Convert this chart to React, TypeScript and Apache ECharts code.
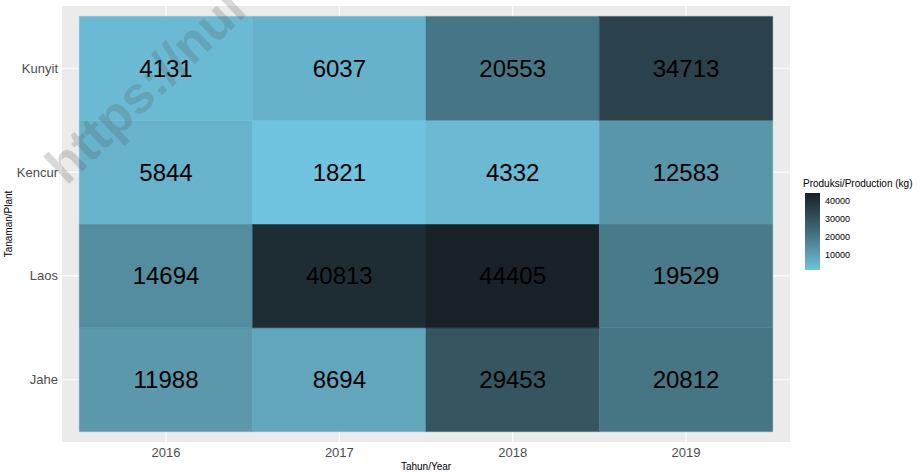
import React, { useEffect, useRef } from "react";
import * as echarts from "echarts";

const years = ["2016", "2017", "2018", "2019"];
const plants = ["Jahe", "Laos", "Kencur", "Kunyit"]; // bottom to top
const jahe = [11988, 8694, 29453, 20812];
const laos = [14694, 40813, 44405, 19529];
const kencur = [5844, 1821, 4332, 12583];
const kunyit = [4131, 6037, 20553, 34713];
const legendTicks = [10000, 20000, 30000, 40000];
const rampColors = ["#70C4E0", "#5A96AA", "#406C79", "#2D4550", "#172126"];

const FONT = "'Liberation Sans', Arial, sans-serif";

export default function App() {
  const ref = useRef<HTMLDivElement>(null);
  useEffect(() => {
    if (!ref.current) return;
    const chart = echarts.init(ref.current, null, { renderer: "svg" });
    const rows = [jahe, laos, kencur, kunyit];
    const tileData: number[][] = [];
    rows.forEach((row, yi) => row.forEach((v, xi) => tileData.push([xi, yi, v])));
    const allVals = tileData.map((d) => d[2]);
    const vMin = Math.min(...allVals);
    const vMax = Math.max(...allVals);
    const idx = years.map((_, i) => i);

    chart.setOption({
      animation: false,
      textStyle: { fontFamily: FONT },
      grid: [
        {
          left: 62,
          right: 131,
          top: 6,
          bottom: 31,
          show: true,
          backgroundColor: "#EBEBEB",
          borderWidth: 0,
          containLabel: false,
          outerBoundsMode: "none",
        },
        { left: 805, width: 15, top: 193, height: 77, containLabel: false, outerBoundsMode: "none" },
      ],
      xAxis: [
        {
          type: "value",
          gridIndex: 0,
          min: -0.6,
          max: 3.6,
          axisLine: { show: false },
          splitLine: { show: false },
          axisTick: { show: true, customValues: idx, length: 3.5, lineStyle: { color: "#333333", width: 1 } },
          axisLabel: {
            customValues: idx,
            formatter: (v: number) => years[Math.round(v)] ?? "",
            color: "#4D4D4D",
            fontSize: 13,
            margin: 4,
            fontFamily: FONT,
          },
          name: "Tahun/Year",
          nameLocation: "middle",
          nameGap: 19,
          nameMoveOverlap: false,
          nameTextStyle: { fontSize: 10, color: "#000", fontFamily: FONT },
        },
        {
          type: "category",
          gridIndex: 1,
          data: [""],
          show: false,
        },
      ],
      yAxis: [
        {
          type: "value",
          gridIndex: 0,
          min: -0.6,
          max: 3.6,
          axisLine: { show: false },
          splitLine: { show: false },
          axisTick: { show: true, customValues: idx, length: 3.5, lineStyle: { color: "#333333", width: 1 } },
          axisLabel: {
            customValues: idx,
            formatter: (v: number) => plants[Math.round(v)] ?? "",
            color: "#4D4D4D",
            fontSize: 13,
            margin: 4,
            fontFamily: FONT,
          },
          name: "Tanaman/Plant",
          nameLocation: "middle",
          nameGap: 49,
          nameMoveOverlap: false,
          nameTextStyle: { fontSize: 10, color: "#000", fontFamily: FONT },
        },
        {
          type: "value",
          gridIndex: 1,
          position: "right",
          min: vMin,
          max: vMax,
          axisLine: { show: false },
          splitLine: { show: false },
          axisTick: { show: true, inside: true, customValues: legendTicks, length: 3, lineStyle: { color: "#FFFFFF", width: 1 } },
          axisLabel: {
            customValues: legendTicks,
            formatter: (v: number) => String(v),
            color: "#000",
            fontSize: 9,
            margin: 5,
            fontFamily: FONT,
          },
        },
        {
          type: "value",
          gridIndex: 1,
          position: "left",
          min: vMin,
          max: vMax,
          axisLine: { show: false },
          splitLine: { show: false },
          axisTick: { show: true, inside: true, customValues: legendTicks, length: 3, lineStyle: { color: "#FFFFFF", width: 1 } },
          axisLabel: { show: false },
        },
      ],
      visualMap: {
        type: "continuous",
        show: false,
        min: vMin,
        max: vMax,
        seriesIndex: 1,
        dimension: 2,
        inRange: { color: rampColors },
      },
      graphic: [
        {
          type: "text",
          left: 803,
          top: 178,
          style: { text: "Produksi/Production (kg)", fontSize: 10, fill: "#000", fontFamily: FONT },
        },
        {
          type: "text",
          x: 72,
          y: 192,
          rotation: 0.76,
          z: 100,
          style: {
            text: "https://nul",
            fontSize: 52,
            fontWeight: "bold",
            fill: "rgba(80,80,80,0.22)",
            fontFamily: FONT,
            textVerticalAlign: "bottom",
            textAlign: "left",
          },
        },
      ],
      series: [
        {
          type: "custom",
          xAxisIndex: 0,
          yAxisIndex: 0,
          data: idx,
          silent: true,
          z: 1,
          renderItem: (params: any, api: any) => {
            const i = api.value(0);
            const a = api.coord([i, -0.6]);
            const b = api.coord([i, 3.6]);
            const c = api.coord([-0.6, i]);
            const d = api.coord([3.6, i]);
            return {
              type: "group",
              children: [
                { type: "line", shape: { x1: a[0], y1: a[1], x2: b[0], y2: b[1] }, style: { stroke: "#FFFFFF", lineWidth: 1.1 } },
                { type: "line", shape: { x1: c[0], y1: c[1], x2: d[0], y2: d[1] }, style: { stroke: "#FFFFFF", lineWidth: 1.1 } },
              ],
            };
          },
        },
        {
          type: "custom",
          xAxisIndex: 0,
          yAxisIndex: 0,
          data: tileData,
          z: 2,
          encode: { x: 0, y: 1 },
          renderItem: (params: any, api: any) => {
            const x = api.value(0);
            const y = api.value(1);
            const v = api.value(2);
            const p1 = api.coord([x - 0.5, y + 0.5]);
            const p2 = api.coord([x + 0.5, y - 0.5]);
            return {
              type: "rect",
              shape: { x: p1[0], y: p1[1], width: p2[0] - p1[0], height: p2[1] - p1[1] },
              style: { fill: api.visual("color"), stroke: api.visual("color"), lineWidth: 0.5 },
              textContent: {
                style: { text: String(v), fontSize: 24, fill: "#000", fontFamily: FONT },
              },
              textConfig: { position: "inside" },
            };
          },
        },
        {
          type: "bar",
          xAxisIndex: 1,
          yAxisIndex: 1,
          data: [vMax],
          barWidth: "100%",
          silent: true,
          itemStyle: {
            color: new echarts.graphic.LinearGradient(0, 0, 0, 1, rampColors
              .slice()
              .reverse()
              .map((c, i, arr) => ({ offset: i / (arr.length - 1), color: c }))),
          },
        },
      ],
    });
    return () => chart.dispose();
  }, []);
  return <div ref={ref} style={{ width: 921, height: 473, position: "absolute", left: 0, top: 0 }} />;
}
